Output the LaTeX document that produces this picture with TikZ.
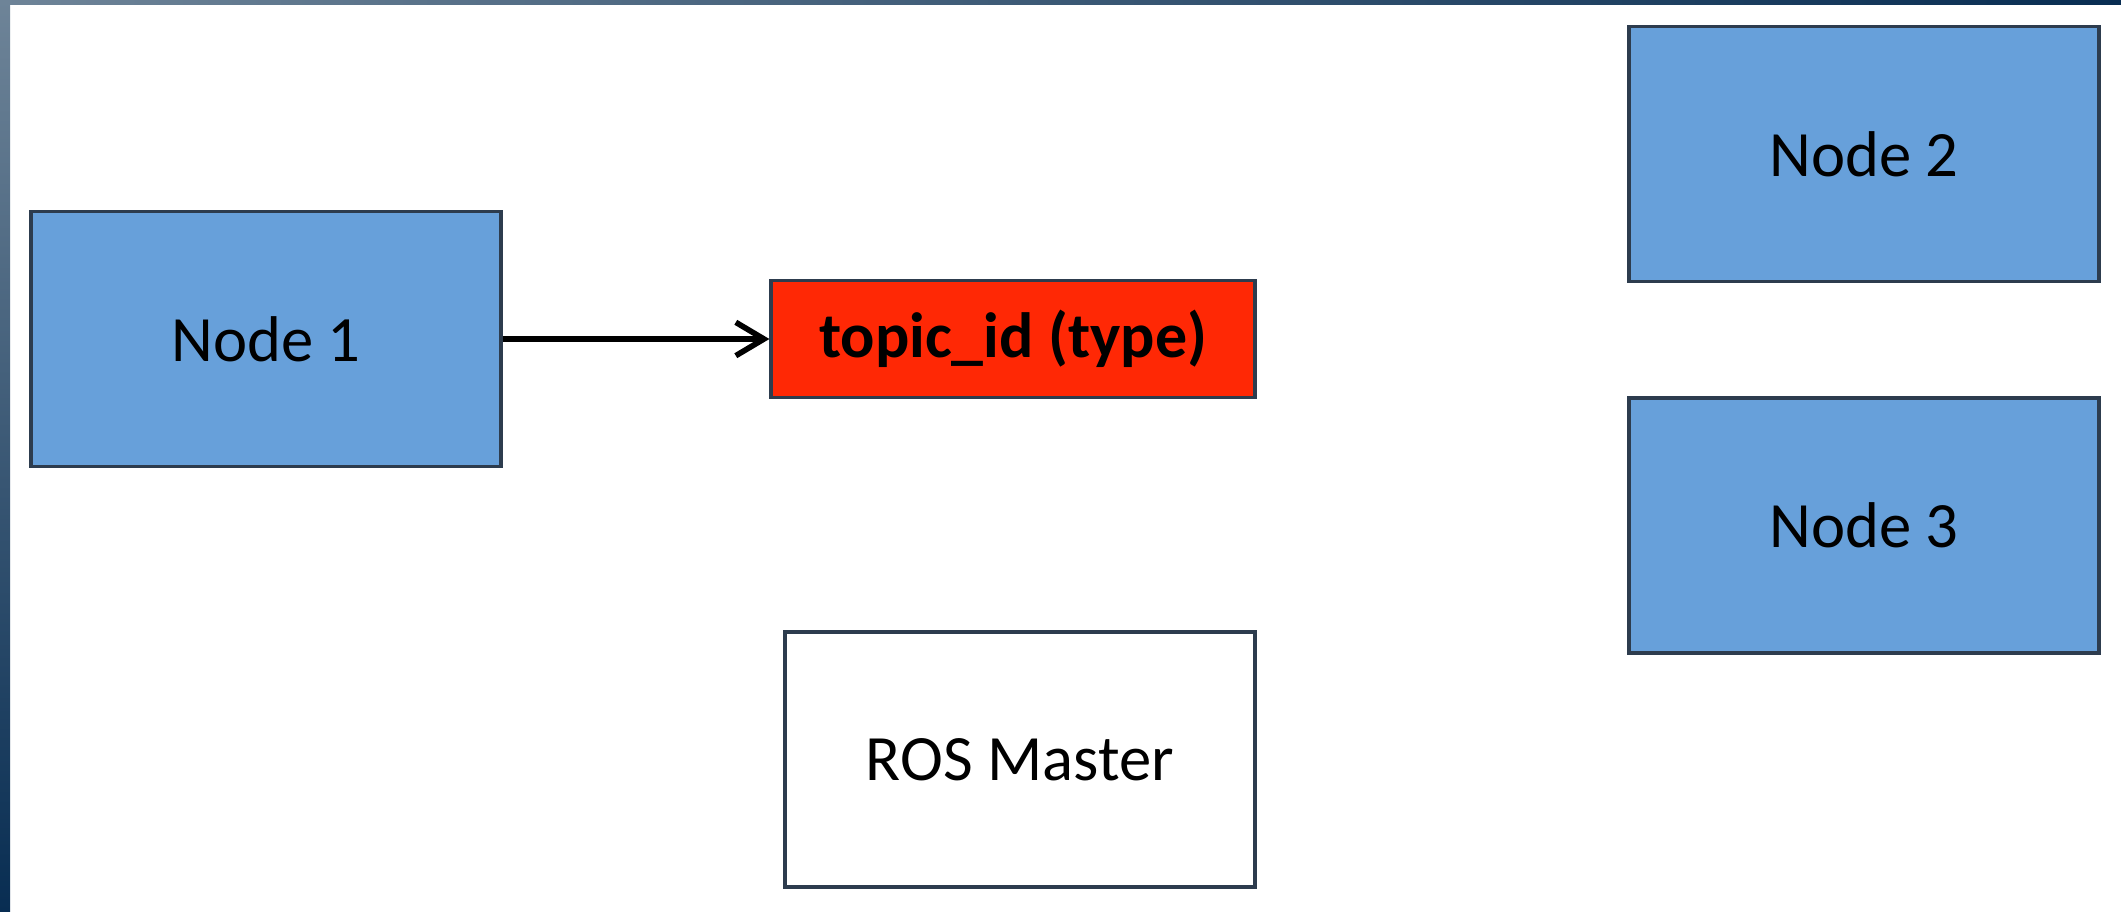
\documentclass[tikz,border=0pt]{standalone}
\usepackage{fontspec}
\setmainfont{Carlito}
\usepackage{tikz}
\usetikzlibrary{arrows.meta}

\definecolor{nodeblue}{RGB}{103,160,218}
\definecolor{topicred}{RGB}{255,40,5}
\definecolor{edgegray}{RGB}{45,60,78}
\definecolor{framenavy}{RGB}{8,45,82}
\definecolor{framegray}{RGB}{110,132,152}

\tikzset{
	rosbox/.style={draw=edgegray,line width=0.9pt,minimum width=4.7cm,minimum height=2.55cm,font=\fontsize{18.4}{21}\selectfont,text=black},
	bluebox/.style={rosbox,fill=nodeblue},
	topicbox/.style={rosbox,fill=topicred,minimum width=4.84cm,minimum height=1.17cm,font=\fontsize{18.2}{21}\selectfont\bfseries}
}

\begin{document}
\begin{tikzpicture}
			\useasboundingbox (0,0) rectangle (21.21,-9.12);
			\fill[white] (0,0) rectangle (21.21,-9.12);
			% slide frame
			\shade[left color=framegray,right color=framenavy] (0,0) rectangle (21.21,-0.04);
			\shade[top color=framegray,bottom color=framenavy] (0,0) rectangle (0.10,-9.12);
			
			\node[bluebox] (n1) at (2.66,-3.39) {Node 1};
			\node[topicbox] (topic) at (10.13,-3.39) {topic\_id (type)};
			\node[rosbox,fill=white] (master) at (10.20,-7.595) {ROS Master};
			\node[bluebox] (n2) at (18.64,-1.54) {Node 2};
			\node[bluebox] (n3) at (18.64,-5.255) {Node 3};
			
			\path[-{Straight Barb[length=8pt,width=9.5pt,line width=1.6pt]},line width=1.6pt]
			(n1) edge (topic);
		\end{tikzpicture}
\end{document}
